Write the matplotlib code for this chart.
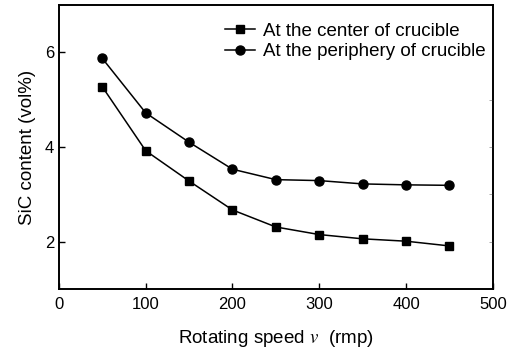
import numpy as np
import matplotlib
matplotlib.use('Agg')
import matplotlib.pyplot as plt

plt.rcParams['font.family'] = ['Liberation Sans', 'DejaVu Sans']
plt.rcParams['mathtext.fontset'] = 'stix'

speed = [50, 100, 150, 200, 250, 300, 350, 400, 450]
center = [5.27, 3.92, 3.28, 2.67, 2.31, 2.15, 2.06, 2.01, 1.91]
periphery = [5.87, 4.72, 4.10, 3.53, 3.31, 3.29, 3.22, 3.20, 3.19]

fig = plt.figure(figsize=(5.16, 3.54), dpi=100)
ax = fig.add_axes([0.1143, 0.1836, 0.8407, 0.8024])

ax.plot(speed, center, color='black', marker='s', markersize=6, lw=1.1,
        label='At the center of crucible')
ax.plot(speed, periphery, color='black', marker='o', markersize=6.5, lw=1.1,
        label='At the periphery of crucible')

ax.set_xlim(0, 500)
ax.set_ylim(1, 7)
ax.set_xticks([0, 100, 200, 300, 400, 500])
ax.set_yticks([2, 4, 6])
ax.tick_params(direction='in', labelsize=12, length=4, width=1)
ax.tick_params(axis='x', pad=6)

# faint ticks on the right axis
ax2 = ax.twinx()
ax2.set_ylim(1, 7)
ax2.set_yticks([2, 3, 4, 5])
ax2.tick_params(direction='in', length=3, width=0.6, colors='#999999', labelright=False)

for a in (ax, ax2):
    for s in a.spines.values():
        s.set_linewidth(1.2)

ax.set_xlabel('Rotating speed $v$  (rmp)', fontsize=13.5, labelpad=11)
ax.set_ylabel('SiC content (vol%)', fontsize=13.5, labelpad=6)

ax.legend(loc='upper left', frameon=False, fontsize=13.5, handlelength=1.6,
          handletextpad=0.43, labelspacing=0.18, borderaxespad=0, borderpad=0,
          bbox_to_anchor=(0.382, 0.937))

fig.savefig('out.png', dpi=100)
